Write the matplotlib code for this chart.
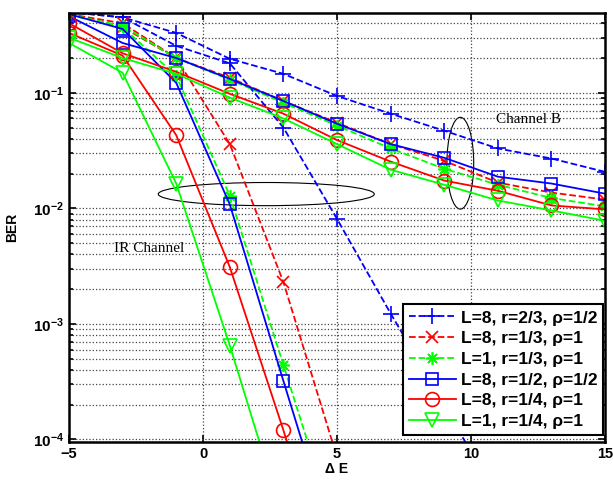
import numpy as np
import matplotlib
matplotlib.use('Agg')
import matplotlib.pyplot as plt
from matplotlib.patches import Ellipse

plt.rcParams['font.family'] = ['Liberation Sans', 'DejaVu Sans']
plt.rcParams['mathtext.fontset'] = 'custom'
plt.rcParams['mathtext.rm'] = 'Liberation Sans'
plt.rcParams['mathtext.bf'] = 'Liberation Sans:bold'

# SNR offsets (Delta E)
dE = [-5, -3, -1, 1, 3, 5, 7, 9, 11, 13, 15]

# Channel B curves (flat)
chb_plus = [0.50, 0.45, 0.33, 0.197, 0.146, 0.094, 0.066, 0.047, 0.033, 0.027, 0.0207]
chb_x = [0.48, 0.40, 0.20, 0.135, 0.085, 0.055, 0.036, 0.0258, 0.0167, 0.0137, 0.0119]
chb_star = [0.47, 0.38, 0.20, 0.13, 0.082, 0.052, 0.033, 0.022, 0.016, 0.0123, 0.0104]
chb_sq = [0.46, 0.27, 0.20, 0.132, 0.085, 0.054, 0.036, 0.0274, 0.0188, 0.0164, 0.0134]
chb_circ = [0.40, 0.22, 0.152, 0.098, 0.066, 0.039, 0.0254, 0.0174, 0.0142, 0.0106, 0.0098]
chb_tri = [0.30, 0.20, 0.146, 0.091, 0.060, 0.036, 0.0216, 0.016, 0.0117, 0.0096, 0.0078]

# IR channel curves (steep)
ir_plus = [0.50, 0.45, 0.255, 0.18, 0.05, 8.1e-3, 1.23e-3, 2e-4, 3e-5]
ir_x = [0.48, 0.37, 0.20, 0.036, 2.3e-3, 7e-5]
ir_star = [0.48, 0.37, 0.14, 0.0129, 4.4e-4, 1.5e-5]
ir_sq = [0.48, 0.357, 0.122, 0.0108, 3.2e-4, 1e-5]
ir_circ = [0.33, 0.21, 0.043, 3.1e-3, 1.2e-4, 4e-6]
ir_tri = [0.27, 0.149, 0.0164, 6.5e-4, 2e-5]

labels = ['L=8, r=2/3, ρ=1/2', 'L=8, r=1/3, ρ=1', 'L=1, r=1/3, ρ=1',
          'L=8, r=1/2, ρ=1/2', 'L=8, r=1/4, ρ=1', 'L=1, r=1/4, ρ=1']
chb = [chb_plus, chb_x, chb_star, chb_sq, chb_circ, chb_tri]
ir = [ir_plus, ir_x, ir_star, ir_sq, ir_circ, ir_tri]
colors = ['#0000ff', '#ff0000', '#00ff00', '#0000ff', '#ff0000', '#00ff00']
styles = ['--', '--', '--', '-', '-', '-']
markers = ['+', 'x', (8, 2, 0), 's', 'o', 'v']
msizes = [11, 8, 9, 8, 10, 10]

fig = plt.figure(figsize=(6.13, 4.83), dpi=100)
ax = fig.add_axes([0.1126, 0.0849, 0.8744, 0.888])

for i in range(6):
    kw = dict(color=colors[i], ls=styles[i], marker=markers[i], ms=msizes[i],
              mfc='none', mec=colors[i], mew=1.2, lw=1.3)
    ax.semilogy(dE, chb[i], label=labels[i], **kw)
    ax.semilogy(dE[:len(ir[i])], ir[i], **kw)

ax.set_xlim(-5, 15)
ax.set_ylim(9.5e-5, 0.49)
ax.set_xticks([-5, 0, 5, 10, 15])
ax.set_xticklabels(['−5', '0', '5', '10', '15'], fontweight='bold', fontsize=10.5)
ax.set_yticks([1e-4, 1e-3, 1e-2, 1e-1])
ax.set_yticklabels([r'$\mathbf{10^{-4}}$', r'$\mathbf{10^{-3}}$',
                    r'$\mathbf{10^{-2}}$', r'$\mathbf{10^{-1}}$'], fontsize=11)
ax.tick_params(which='both', direction='in', top=True, right=True, width=1.2)
ax.tick_params(which='major', length=5)
ax.tick_params(which='minor', length=3)
ax.grid(True, which='major', ls=':', color='#444444', lw=0.9)
ax.grid(True, which='minor', axis='y', ls=':', color='#444444', lw=0.9)
for s in ax.spines.values():
    s.set_linewidth(1.8)

ax.set_xlabel('Δ E', fontweight='bold', fontsize=10, labelpad=1)
ax.set_ylabel('BER', fontweight='bold', fontsize=10, labelpad=10)

ax.add_patch(Ellipse((0.368, 0.578), 0.403, 0.054, transform=ax.transAxes,
                     fill=False, ec='black', lw=0.8))
ax.add_patch(Ellipse((0.730, 0.650), 0.050, 0.214, transform=ax.transAxes,
                     fill=False, ec='black', lw=0.8))
ax.text(0.15, 0.452, 'IR Channel', transform=ax.transAxes, ha='center', va='center',
        family='Liberation Serif', fontsize=11)
ax.text(0.857, 0.753, 'Channel B', transform=ax.transAxes, ha='center', va='center',
        family='Liberation Serif', fontsize=11)

leg = ax.legend(loc='lower right', bbox_to_anchor=(0.997, 0.016),
                prop={'weight': 'bold', 'size': 12.5},
                fancybox=False, edgecolor='black', framealpha=1,
                borderaxespad=0, handlelength=2.7, labelspacing=0.32,
                borderpad=0.35, handletextpad=0.3)
leg.get_frame().set_linewidth(1.5)

plt.savefig('out.png', dpi=100)
